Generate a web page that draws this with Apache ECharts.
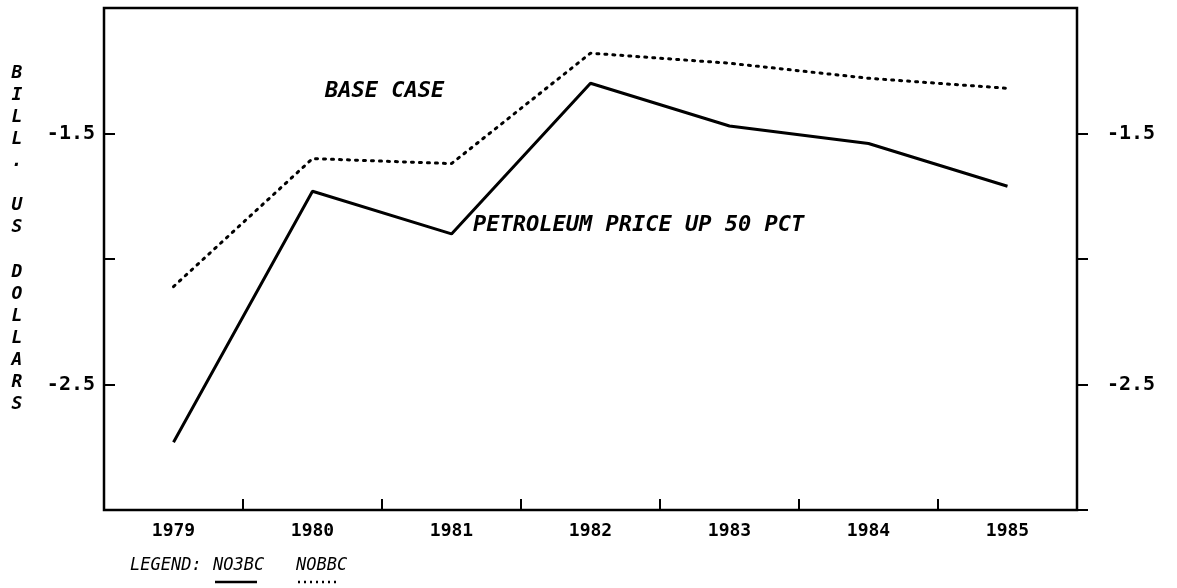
<!DOCTYPE html>
<html>
<head>
<meta charset="utf-8">
<script src="https://cdn.jsdelivr.net/npm/echarts@6/dist/echarts.min.js"></script>
<style>
  html, body { margin: 0; padding: 0; background: #fff; }
  #chart { width: 1177px; height: 588px; }
</style>
</head>
<body>
<div id="chart"></div>
<script>
// values, billions of US dollars
const years = ['1979', '1980', '1981', '1982', '1983', '1984', '1985']
const no3bc = [-2.73, -1.73, -1.90, -1.30, -1.47, -1.54, -1.71] // petroleum price up 50 pct
const nobbc = [-2.11, -1.60, -1.62, -1.18, -1.22, -1.28, -1.32] // base case
const yLabels = ['-1.5', '-2.5']
const yTicks = [-3, -2.5, -2, -1.5]

const FONT = 'DejaVu Sans Mono'
const chart = echarts.init(document.getElementById('chart'))

const yLabelFmt = v => {
  const s = v.toFixed(1)
  return yLabels.includes(s) ? s : ''
}

const yAxisBase = {
  type: 'value',
  min: -3,
  max: -1,
  interval: 0.5,
  splitLine: { show: false },
  axisLine: { show: false },
  axisLabel: {
    formatter: yLabelFmt,
    color: '#000',
    fontFamily: FONT,
    fontWeight: 'bold',
    fontSize: 20
  }
}

const option = {
  backgroundColor: '#fff',
  animation: false,
  grid: {
    left: 104, right: 100, top: 8, bottom: 78,
    show: true,
    borderColor: '#000',
    borderWidth: 2.5
  },
  xAxis: {
    type: 'category',
    data: years,
    boundaryGap: true,
    axisLine: { show: false },
    axisTick: { show: true, inside: true, length: 11, lineStyle: { color: '#000', width: 2 } },
    axisLabel: { color: '#000', fontFamily: FONT, fontWeight: 'bold', fontSize: 18, margin: 12 }
  },
  yAxis: [
    Object.assign({}, yAxisBase, {
      position: 'left',
      axisTick: {
        show: true, inside: true, length: 11,
        customValues: yTicks,
        lineStyle: { color: '#000', width: 2 }
      },
      axisLabel: Object.assign({}, yAxisBase.axisLabel, { margin: 9 })
    }),
    Object.assign({}, yAxisBase, {
      position: 'right',
      axisTick: {
        show: true, inside: false, length: 11,
        customValues: yTicks,
        lineStyle: { color: '#000', width: 2 }
      },
      axisLabel: Object.assign({}, yAxisBase.axisLabel, { margin: 30 })
    })
  ],
  series: [
    {
      name: 'NO3BC',
      type: 'line',
      data: no3bc,
      showSymbol: false,
      lineStyle: { color: '#000', width: 3 }
    },
    {
      name: 'NOBBC',
      type: 'line',
      data: nobbc,
      showSymbol: false,
      lineStyle: { color: '#000', width: 3, type: [2, 6], cap: 'round' }
    }
  ],
  graphic: [
    {
      type: 'text', x: 17, y: 62,
      style: {
        text: 'BILL. US DOLLARS'.split('').join('\n'),
        font: 'italic bold 18px ' + FONT,
        lineHeight: 22.1,
        fill: '#000',
        align: 'center'
      }
    },
    {
      type: 'text', left: 325, top: 80,
      style: { text: 'BASE CASE', font: 'italic bold 22px ' + FONT, fill: '#000' }
    },
    {
      type: 'text', left: 473, top: 214,
      style: { text: 'PETROLEUM PRICE UP 50 PCT', font: 'italic bold 22px ' + FONT, fill: '#000' }
    },
    {
      type: 'text', left: 130, top: 557,
      style: { text: 'LEGEND:', font: 'italic 17px ' + FONT, fill: '#000' }
    },
    {
      type: 'text', left: 213, top: 557,
      style: { text: 'NO3BC', font: 'italic 17px ' + FONT, fill: '#000' }
    },
    {
      type: 'text', left: 296, top: 557,
      style: { text: 'NOBBC', font: 'italic 17px ' + FONT, fill: '#000' }
    },
    {
      type: 'line', shape: { x1: 215, y1: 582, x2: 257, y2: 582 },
      style: { stroke: '#000', lineWidth: 2.5 }
    },
    {
      type: 'line', shape: { x1: 298, y1: 582, x2: 338, y2: 582 },
      style: { stroke: '#000', lineWidth: 2.5, lineDash: [2, 4] }
    }
  ]
}

chart.setOption(option)
</script>
</body>
</html>
